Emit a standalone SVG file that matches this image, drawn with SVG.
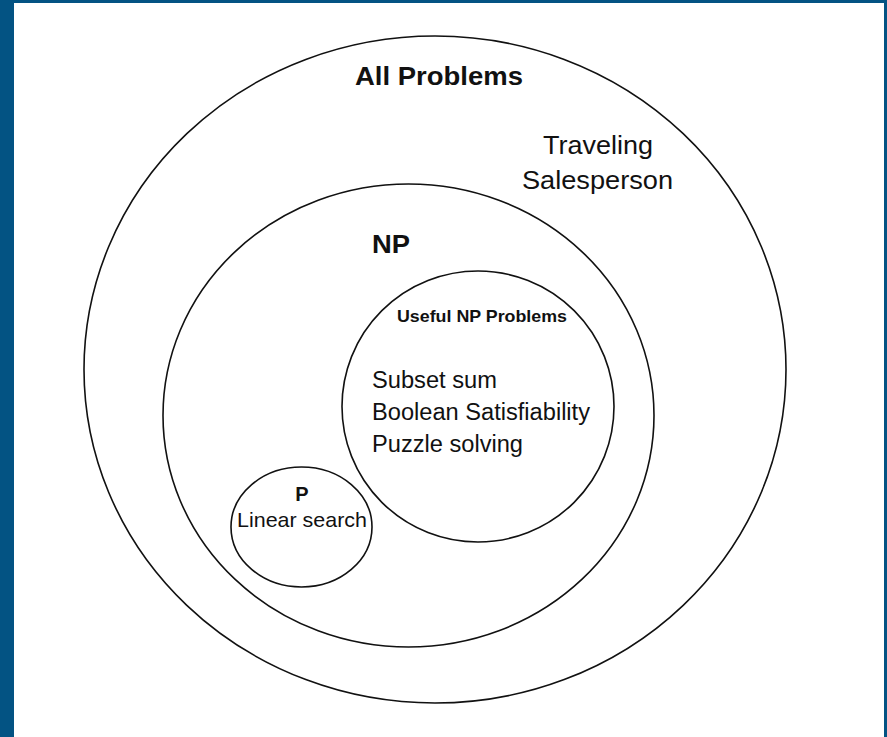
<svg xmlns="http://www.w3.org/2000/svg" width="887" height="737" viewBox="0 0 887 737">
<style>
.set{fill:none;stroke:#111;stroke-width:1.6}
text{font-family:"Liberation Sans",Arial,sans-serif;fill:#111}
.b{font-weight:bold}
</style>
<rect x="0" y="0" width="887" height="737" fill="#035383"/>
<rect x="14" y="3" width="870" height="734" fill="#ffffff"/>
<g id="all">
<ellipse class="set" cx="435" cy="369.5" rx="351" ry="333.5"/>
<text class="b" x="355" y="85" font-size="26" textLength="168" lengthAdjust="spacingAndGlyphs">All Problems</text>
<text x="543" y="154" font-size="26" textLength="110" lengthAdjust="spacingAndGlyphs">Traveling</text>
<text x="522" y="189" font-size="26" textLength="151" lengthAdjust="spacingAndGlyphs">Salesperson</text>
</g>
<g id="np">
<ellipse class="set" cx="408.5" cy="415.5" rx="245.5" ry="231.5"/>
<text class="b" x="372" y="253" font-size="26" textLength="38" lengthAdjust="spacingAndGlyphs">NP</text>
</g>
<g id="useful">
<ellipse class="set" cx="478" cy="406.5" rx="136" ry="135.5"/>
<text class="b" x="397" y="322" font-size="16.5" textLength="170" lengthAdjust="spacingAndGlyphs">Useful NP Problems</text>
<text x="372" y="388" font-size="23" textLength="125" lengthAdjust="spacingAndGlyphs">Subset sum</text>
<text x="372" y="420" font-size="23" textLength="218" lengthAdjust="spacingAndGlyphs">Boolean Satisfiability</text>
<text x="372" y="452" font-size="23" textLength="151" lengthAdjust="spacingAndGlyphs">Puzzle solving</text>
</g>
<g id="p">
<ellipse class="set" cx="301.5" cy="527" rx="70.5" ry="60"/>
<text class="b" x="302" y="501" font-size="20" text-anchor="middle">P</text>
<text x="237" y="527" font-size="21" textLength="130" lengthAdjust="spacingAndGlyphs">Linear search</text>
</g>
<g id="connectors"></g>
</svg>
